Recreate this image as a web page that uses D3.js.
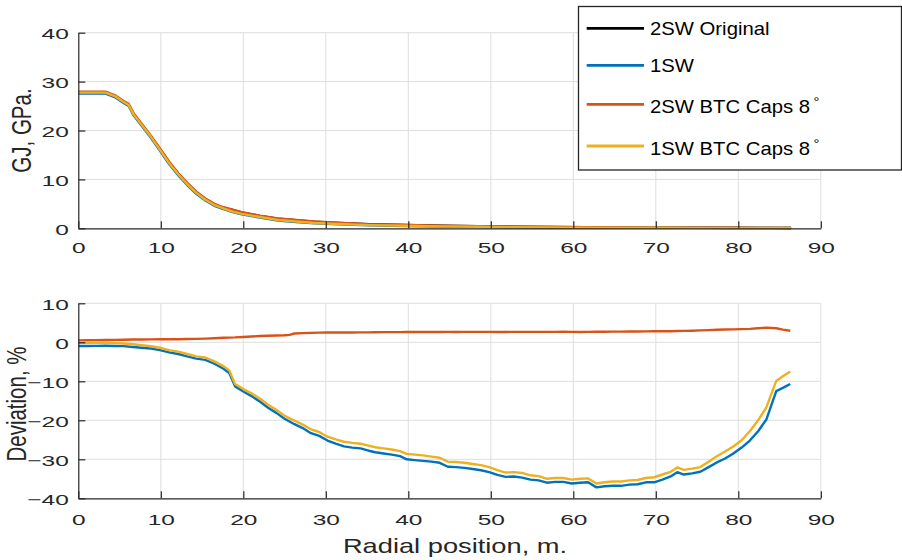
<!DOCTYPE html>
<html><head><meta charset="utf-8">
<script src="https://cdn.jsdelivr.net/npm/d3@7"></script>
<style>body{margin:0;background:#fff}svg{display:block}</style>
</head><body><svg id="c" width="902" height="560"></svg>
<script>
// ---------- data ----------
const topX = [0,1.1,2.2,3.3,4.4,5.5,6.1,6.7,7.7,8.8,9.9,11,12.1,13.2,14.3,15.4,16.5,17.6,18.7,19.8,22,24.2,26.4,28.6,30.8,35.2,39.6,44,48.4,52.8,57.2,61.6,66,70.4,74.8,79.2,83.6,86.4];
const gj2SWOriginal = [27.8,27.8,27.8,27.8,27.1,25.9,25.3,23.4,21.2,18.8,16.2,13.5,11.2,9.2,7.4,6.0,4.9,4.2,3.75,3.25,2.55,1.95,1.65,1.36,1.17,0.83,0.68,0.54,0.44,0.34,0.27,0.21,0.17,0.14,0.12,0.1,0.08,0.07];
const gj1SW = [27.55,27.55,27.55,27.55,26.85,25.65,25.0,23.1,20.9,18.5,15.85,13.15,10.85,8.85,7.05,5.7,4.6,3.9,3.3,2.85,2.2,1.6,1.3,1.0,0.86,0.6,0.48,0.37,0.3,0.22,0.17,0.13,0.11,0.09,0.08,0.07,0.06,0.05];
const gj2SWBTC = [27.95,27.95,27.95,27.95,27.25,26.05,25.45,23.55,21.35,18.95,16.35,13.65,11.3,9.3,7.5,6.1,5.0,4.3,3.8,3.3,2.6,2.0,1.7,1.4,1.2,0.85,0.7,0.55,0.45,0.35,0.28,0.22,0.18,0.14,0.12,0.1,0.08,0.07];
const gj1SWBTC = [27.75,27.75,27.75,27.75,27.05,25.85,25.2,23.3,21.1,18.7,16.05,13.35,11.05,9.05,7.25,5.85,4.75,4.05,3.4,2.95,2.3,1.7,1.38,1.07,0.92,0.65,0.52,0.4,0.32,0.24,0.18,0.14,0.12,0.1,0.09,0.08,0.07,0.06];

const devX = [0,1.1,2.2,3.3,4.4,5.5,6.6,7.7,8.8,9.9,11,12.1,13.2,14.3,15.4,16.5,17.6,18.3,19,20,21,22,23,24,25,25.6,26.2,27.2,28.2,29.2,30.2,31.2,32.2,33.2,34.2,35.2,36,37,38,39,39.8,40.8,41.8,42.8,43.8,44.8,45.8,46.8,47.8,48.8,49.8,50.8,51.8,52.8,53.8,54.8,55.8,56.8,57.8,58.8,59.8,60.8,61.8,62.8,63.8,64.8,65.8,66.8,67.8,68.8,69.8,70.8,71.8,72.6,73.4,74.4,75.4,76.4,77.4,78.4,79.4,80.4,81.4,82.4,83.4,84.6,85.4,86.3];
const dev1SW = [-0.95,-0.95,-0.92,-0.9,-0.95,-0.97,-1.2,-1.4,-1.6,-2.0,-2.6,-3.0,-3.6,-4.2,-4.5,-5.5,-6.8,-7.9,-11.3,-12.6,-13.8,-15.2,-16.8,-18.1,-19.6,-20.3,-21.0,-22.0,-23.3,-24.0,-25.2,-26.0,-26.7,-27.0,-27.2,-27.8,-28.2,-28.5,-28.8,-29.2,-30.0,-30.2,-30.4,-30.6,-30.9,-31.9,-32.0,-32.2,-32.5,-32.8,-33.3,-34.0,-34.5,-34.4,-34.7,-35.2,-35.4,-36.0,-35.8,-35.8,-36.2,-36.0,-35.9,-37.2,-36.9,-36.8,-36.8,-36.5,-36.4,-35.9,-35.9,-35.2,-34.4,-33.3,-33.9,-33.6,-33.2,-32.0,-30.8,-29.8,-28.5,-27.0,-25.2,-22.8,-19.8,-12.5,-11.7,-10.7];
const dev2SWBTC = [0.5,0.52,0.55,0.58,0.62,0.66,0.7,0.72,0.74,0.77,0.78,0.8,0.83,0.88,0.95,1.05,1.15,1.2,1.25,1.37,1.5,1.6,1.68,1.75,1.82,1.9,2.25,2.35,2.42,2.48,2.5,2.5,2.52,2.52,2.55,2.55,2.58,2.6,2.6,2.62,2.63,2.63,2.65,2.66,2.65,2.67,2.66,2.67,2.67,2.68,2.67,2.65,2.66,2.67,2.67,2.68,2.67,2.68,2.68,2.7,2.68,2.66,2.68,2.7,2.72,2.74,2.75,2.76,2.77,2.8,2.82,2.83,2.85,2.88,2.92,2.98,3.05,3.12,3.2,3.28,3.32,3.38,3.45,3.6,3.75,3.6,3.25,2.95];
const dev1SWBTC = [-0.15,-0.15,-0.12,-0.1,-0.2,-0.3,-0.5,-0.75,-1.0,-1.4,-2.0,-2.4,-3.0,-3.6,-3.9,-4.9,-6.1,-7.2,-10.7,-12.0,-13.1,-14.4,-16.0,-17.3,-18.8,-19.5,-20.1,-21.1,-22.3,-23.0,-24.2,-24.9,-25.5,-25.8,-26.0,-26.5,-26.9,-27.2,-27.5,-27.9,-28.6,-28.8,-29.0,-29.3,-29.6,-30.6,-30.7,-30.9,-31.2,-31.5,-32.0,-32.8,-33.4,-33.3,-33.5,-34.1,-34.3,-35.0,-34.8,-34.8,-35.2,-35.0,-34.9,-36.2,-35.9,-35.7,-35.7,-35.4,-35.3,-34.8,-34.6,-33.9,-33.2,-32.1,-32.7,-32.4,-32.0,-30.6,-29.2,-28.0,-26.7,-25.1,-22.8,-20.0,-16.7,-9.9,-8.7,-7.5];

const xTicks = [0,10,20,30,40,50,60,70,80,90];
const topYTicks = [0,10,20,30,40];
const devYTicks = [-40,-30,-20,-10,0,10];
const legendNames = ["2SW Original","1SW","2SW BTC Caps 8","1SW BTC Caps 8"];
const legendSup = ["","","\u00B0","\u00B0"];

// ---------- styles ----------
const colors = ["#000000","#0072BD","#D95319","#EDB120"];
const ink = "#262626", gridC = "#dedede";
const TSX = 1.6;   // horizontal stretch of tick labels
const LSX = 1.33;  // horizontal stretch of axis labels
const font = "'Liberation Sans', Arial, Helvetica, sans-serif";

const svg = d3.select("#c").style("font-family", font);

const x = d3.scaleLinear().domain([0,90]).range([78.3,820.8]);
const yTop = d3.scaleLinear().domain([0,40]).range([228.3,32.7]);
const yDev = d3.scaleLinear().domain([-40,10]).range([498.3,303.3]);

function panel(y, yTicks, yLabel, series, xs, labelBase, yLabelX, yLabelY) {
  const g = svg.append("g");
  g.append("g").selectAll("line").data(xTicks.slice(1)).join("line")
    .attr("x1", d => x(d)).attr("x2", d => x(d))
    .attr("y1", y.range()[0]).attr("y2", y.range()[1])
    .attr("stroke", gridC).attr("stroke-width", 1);
  g.append("g").selectAll("line").data(yTicks.slice(1)).join("line")
    .attr("x1", x.range()[0]).attr("x2", x.range()[1])
    .attr("y1", d => y(d)).attr("y2", d => y(d))
    .attr("stroke", gridC).attr("stroke-width", 1);
  const line = d3.line().x((d,i) => x(xs[i])).y(d => y(d));
  series.forEach(s => {
    g.append("path").datum(s.values).attr("d", line)
      .attr("fill","none").attr("stroke", s.color).attr("stroke-width", 2.4)
      .attr("stroke-linejoin","round");
  });
  const xa = g.append("g").attr("transform", `translate(0,${y.range()[0]})`)
    .call(d3.axisBottom(x).tickValues(xTicks).tickSizeInner(-7).tickSizeOuter(0));
  const ya = g.append("g").attr("transform", `translate(${x.range()[0]},0)`)
    .call(d3.axisLeft(y).tickValues(yTicks).tickSizeInner(-7).tickSizeOuter(0));
  [xa, ya].forEach(a => {
    a.select(".domain").attr("stroke", ink).attr("stroke-width", 1.2);
    a.selectAll(".tick line").attr("stroke", ink).attr("stroke-width", 1.2);
    a.selectAll("text").attr("fill", ink).style("font-size","15.3px").style("font-family", font);
  });
  xa.selectAll("text").attr("y", labelBase).attr("dy", null)
    .attr("transform", `scale(${TSX},1)`);
  ya.selectAll("text").attr("x", -9.5 / TSX).attr("dy", "0.38em")
    .attr("transform", `scale(${TSX},1)`);
  g.append("text")
    .attr("transform", `translate(${yLabelX},${yLabelY}) scale(${LSX},1) rotate(-90)`)
    .attr("text-anchor","middle").attr("fill", ink)
    .style("font-size","20.5px").text(yLabel);
  return g;
}

panel(yTop, topYTicks, "GJ, GPa.", [
  {values: gj2SWOriginal, color: colors[0]},
  {values: gj1SW, color: colors[1]},
  {values: gj2SWBTC, color: colors[2]},
  {values: gj1SWBTC, color: colors[3]}
], topX, 24.8, 31, 130.5);

panel(yDev, devYTicks, "Deviation, %", [
  {values: dev1SW, color: colors[1]},
  {values: dev2SWBTC, color: colors[2]},
  {values: dev1SWBTC, color: colors[3]}
], devX, 26.5, 25.5, 404);

svg.append("text")
  .attr("transform", `translate(455,553.3) scale(${LSX},1)`)
  .attr("text-anchor","middle").attr("fill", ink)
  .style("font-size","20.5px").text("Radial position, m.");

// legend
const lg = svg.append("g");
lg.append("rect").attr("x",578.5).attr("y",6.5).attr("width",323).attr("height",163.5)
  .attr("fill","#fff").attr("stroke",ink).attr("stroke-width",1.3);
const lineYs = [28.3, 65.3, 104.3, 146];
const baseYs = [35, 71.7, 113, 155];
legendNames.forEach((n,i) => {
  lg.append("line").attr("x1",586.7).attr("x2",644).attr("y1",lineYs[i]).attr("y2",lineYs[i])
    .attr("stroke",colors[i]).attr("stroke-width",2.8);
  const t = lg.append("text").attr("transform",`translate(650,${baseYs[i]}) scale(1.14,1)`)
    .attr("fill","#000").style("font-size","17.8px").text(n);
  if (legendSup[i]) t.append("tspan").attr("dx",3).attr("dy",-7).style("font-size","13px").text(legendSup[i]);
});
</script>
</body></html>
